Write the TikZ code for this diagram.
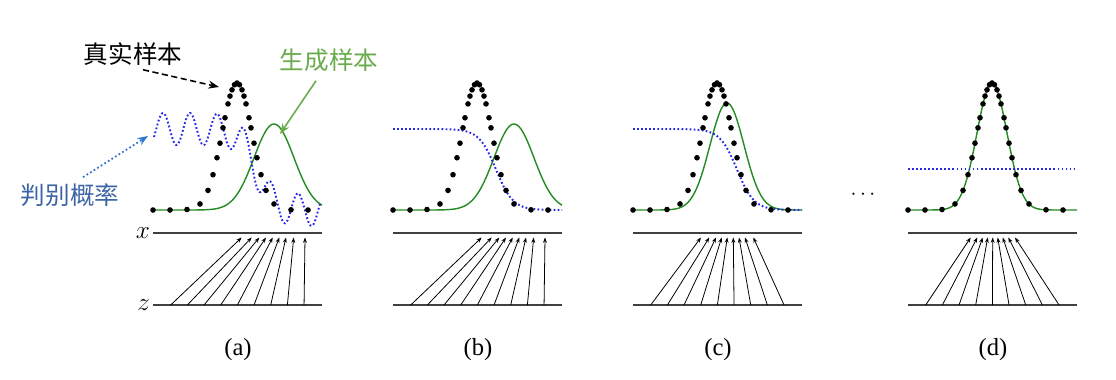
\documentclass[tikz,border=0pt]{standalone}
\usepackage{fontspec}
\setmainfont{Liberation Serif}
\newfontfamily\cjk{Noto Sans CJK SC}
\usetikzlibrary{arrows.meta,calc}
\definecolor{gencol}{HTML}{228B22}
\definecolor{disccol}{HTML}{2828E8}
\definecolor{genlab}{HTML}{6AAB4C}
\definecolor{problab}{HTML}{3C64A4}
\definecolor{probarrow}{HTML}{2F74D0}
\definecolor{axiscol}{HTML}{404040}

\begin{document}
\begin{tikzpicture}
  [
  x=0.02cm, y=-0.02cm,
  font=\fontsize{13}{15}\selectfont,
  >={Stealth[length=3pt,width=2.2pt]},
  axisline/.style={line width=1.2pt, draw=axiscol},
  mapping/.style={->, line width=0.45pt},
  gencurve/.style={draw=gencol, line width=0.8pt},
  disccurve/.style={draw=disccol, line width=1.1pt, dash pattern=on 1pt off 1.3pt},
  cjklabel/.style={font=\cjk\fontsize{14}{16}\selectfont, inner sep=0pt},
  caption/.style={font=\fontsize{14}{16}\selectfont}
  ]
\useasboundingbox (0,0) rectangle (1116,379);

% axes, mapping arrows and captions
\foreach \p/\l/\tips in {a/153/{88.7,98.7,106.3,113,119.7,126.3,133,140.7,152},
                         b/393/{88.7,98.7,106.3,113,119.7,126.3,133,140.7,152},
                         c/633/{68,76.3,83,88.7,94.3,100.3,106,112,120.3},
                         d/908/{62.7,69.3,74.7,79.7,84.7,89.7,94.7,100.3,107}} {
  \coordinate (x\p-l) at (\l,233);
  \coordinate (x\p-r) at (\l+169,233);
  \coordinate (z\p-l) at (\l,305);
  \coordinate (z\p-r) at (\l+169,305);
  \draw[axisline] (x\p-l) -- (x\p-r);
  \draw[axisline] (z\p-l) -- (z\p-r);
  \foreach \t [count=\i from 0] in \tips {
    \coordinate (z\p\i) at ({\l+17.7+16.67*\i},305);
    \coordinate (x\p\i) at (\l+\t,237.5);
    \draw[mapping] (z\p\i) -- (x\p\i);
  }
  \node[caption] (cap\p) at (\l+85,350) {(\p)};
}

\node[anchor=east, inner sep=1.5pt, font=\fontsize{15}{17}\selectfont] (xlab) at (xa-l) {$x$};
\node[anchor=east, inner sep=1.5pt, font=\fontsize{15}{17}\selectfont] (zlab) at (za-l) {$z$};

% generated distribution
\draw[gencurve] plot[domain=153:322, samples=120] (\x, {210-86*exp(-((\x-274)^2)/800)});
\draw[gencurve] plot[domain=393:562, samples=120] (\x, {210-86*exp(-((\x-514)^2)/800)});
\draw[gencurve] plot[domain=633:802, samples=120] (\x, {210-107*exp(-((\x-727)^2)/578)});
\draw[gencurve] plot[domain=908:1077, samples=120] (\x, {210-127*exp(-((\x-992)^2)/450)});

% discriminator
\draw[disccurve] plot[domain=154:320, samples=220] (\x, {210-81/(1+exp((\x-256)/8.5))-16*cos(13.333*(\x-244))});
\draw[disccurve] plot[domain=393:562, samples=120] (\x, {210-81/(1+exp((\x-496)/8.5))});
\draw[disccurve] plot[domain=633:802, samples=120] (\x, {210-81/(1+exp((\x-737)/8.5))});
\draw[disccurve, line width=1.3pt] (908,169) -- (1077,169);

% real samples
\foreach \c in {237,477,717,992} {
  \foreach \u in {-84,-67,-50,-37,-29,-24,-20,-17,-14,-12,-9,-7,-5,-2.5,0,2.5,5,7,9,12,14,17,20,24,29,37,54,71}
    \fill (\c+\u, {210-127*exp(-((\u)*(\u))/450)}) circle (1.6pt);
}

\node (dots) at (863,195) {$\cdots$};

% labels
\node[cjklabel] (real) at (133,54) {真实样本};
\node[cjklabel, text=genlab] (gen) at (329,60) {生成样本};
\node[cjklabel, text=problab] (prob) at (70,195) {判别概率};

\coordinate (realtip) at (219,87);
\coordinate (gentip) at (280,134);
\coordinate (probtip) at (148,136);
\draw[line width=0.9pt, dash pattern=on 3.5pt off 2pt, -{Stealth[length=6pt,width=4.5pt]}] ([shift={(10,4)}]real.south) -- (realtip);
\draw[genlab, line width=0.9pt, -{Stealth[length=6pt,width=4.5pt]}] ([shift={(-13,9)}]gen.south) -- (gentip);
\draw[probarrow, line width=1pt, dash pattern=on 1pt off 1.4pt, -{Stealth[length=6pt,width=4.5pt]}] ([shift={(13,-6)}]prob.north) -- (probtip);

\end{tikzpicture}
\end{document}
